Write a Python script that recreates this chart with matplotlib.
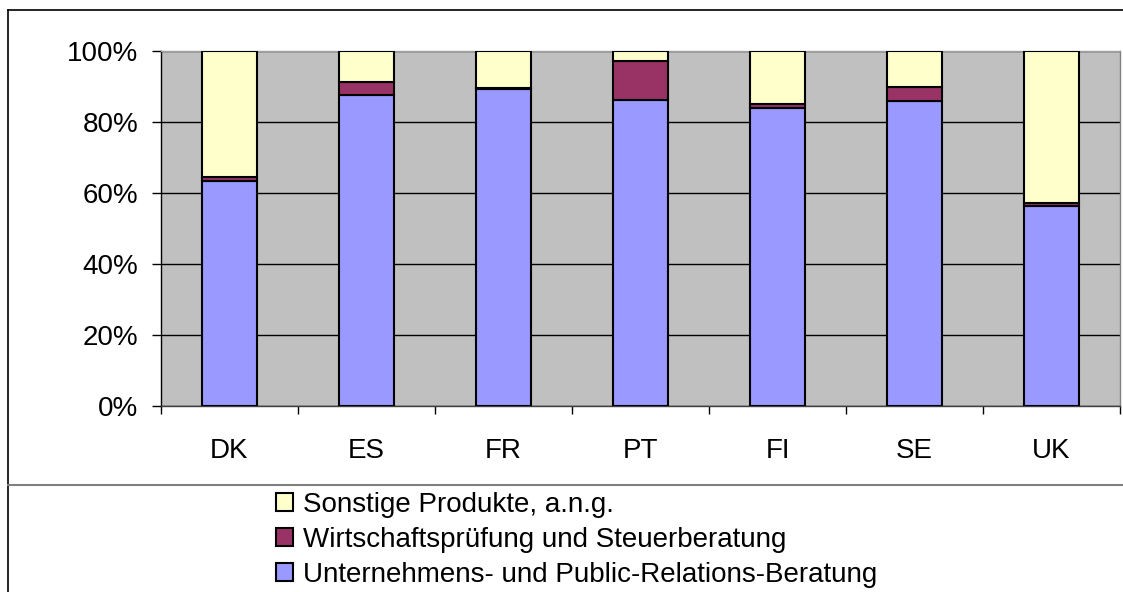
import numpy as np
import matplotlib.pyplot as plt
from matplotlib.lines import Line2D
from matplotlib.patches import Patch

plt.rcParams['font.family'] = ['Liberation Sans', 'DejaVu Sans']

countries = ['DK', 'ES', 'FR', 'PT', 'FI', 'SE', 'UK']
beratung = [63.3, 87.6, 89.2, 86.1, 84.0, 86.0, 56.2]
pruefung = [1.2, 3.6, 0.5, 11.2, 1.1, 3.8, 1.1]
sonstige = [35.5, 8.8, 10.3, 2.7, 14.9, 10.2, 42.7]

labels = ['Unternehmens- und Public-Relations-Beratung',
          'Wirtschaftsprüfung und Steuerberatung',
          'Sonstige Produkte, a.n.g.']
colors = ['#9999FF', '#993366', '#FFFFCC']

W, H = 1123, 592
fig = plt.figure(figsize=(W / 100, H / 100), dpi=100)
ax = fig.add_axes([161 / W, 1 - 406 / H, (1120 - 161) / W, (406 - 51) / H])
ax.set_facecolor('#C0C0C0')

x = np.arange(len(countries))
bottom = np.zeros(len(countries))
for vals, col, lab in zip([beratung, pruefung, sonstige], colors, labels):
    ax.bar(x, vals, 0.4, bottom=bottom, color=col, edgecolor='black',
           linewidth=1.5, label=lab, zorder=3)
    bottom += np.array(vals)

ax.set_xlim(-0.5, len(countries) - 0.5)
ax.set_ylim(0, 100)
ax.set_yticks(range(0, 101, 20))
ax.set_yticklabels([f'{v}%' for v in range(0, 101, 20)])
ax.yaxis.grid(True, color='black', linewidth=1.0, zorder=0)
ax.set_axisbelow(True)
ax.tick_params(axis='y', direction='out', length=6.5, width=1, pad=10, labelsize=20)

ax.set_xticks(x)
ax.set_xticklabels(countries)
ax.set_xticks(np.arange(-0.5, len(countries)), minor=True)
ax.tick_params(axis='x', which='major', length=0, pad=23, labelsize=20)
ax.tick_params(axis='x', which='minor', direction='out', length=6, width=1)

ax.spines['top'].set_color('#A0A0A0')
ax.spines['right'].set_color('#808080')
ax.spines['left'].set_color('black')
ax.spines['bottom'].set_color('#404040')
for s in ax.spines.values():
    s.set_linewidth(1.0)

# outer frame and separator line
fig.add_artist(Line2D([8 / W, 8 / W], [0, 1 - 10 / H], color='black', linewidth=1.2))
fig.add_artist(Line2D([8 / W, 1], [1 - 10 / H, 1 - 10 / H], color='black', linewidth=1.2))
fig.add_artist(Line2D([8 / W, 1], [1 - 485 / H, 1 - 485 / H], color='#808080', linewidth=1.5))

handles = [Patch(facecolor=c, edgecolor='black', linewidth=1.5) for c in colors][::-1]
fig.legend(handles, labels[::-1], loc='upper left',
           bbox_to_anchor=(276 / W, 1 - 492 / H), frameon=False, fontsize=20,
           handlelength=0.6, handleheight=0.6, handletextpad=0.36,
           labelspacing=0.32, borderpad=0, borderaxespad=0)

fig.savefig('out.png', dpi=100)
